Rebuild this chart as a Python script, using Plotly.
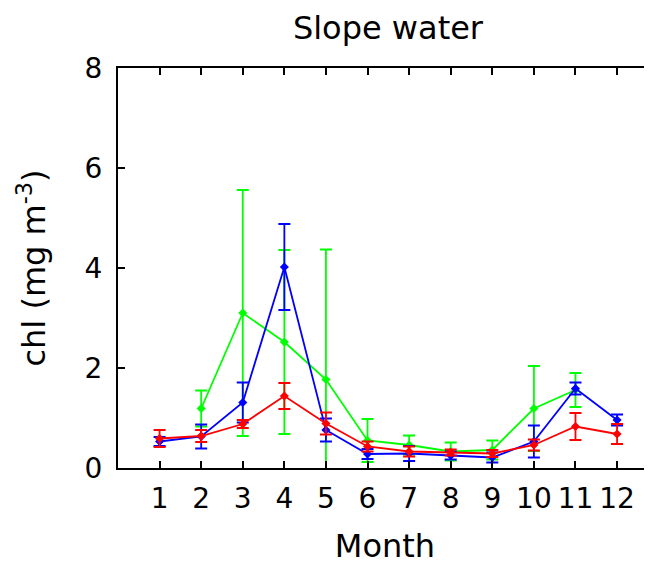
import plotly.graph_objects as go

months = [1, 2, 3, 4, 5, 6, 7, 8, 9, 10, 11, 12]
month_labels = ["1", "2", "3", "4", "5", "6", "7", "8", "9", "10", "11", "12"]

green_months = [2, 3, 4, 5, 6, 7, 8, 9, 10, 11]
green_vals = [1.19, 3.10, 2.52, 1.77, 0.55, 0.46, 0.33, 0.36, 1.19, 1.56]
green_err = [0.36, 2.46, 1.84, 2.60, 0.43, 0.19, 0.18, 0.19, 0.85, 0.34]

blue_vals = [0.53, 0.63, 1.31, 4.02, 0.76, 0.28, 0.29, 0.25, 0.21, 0.53, 1.59, 0.96]
blue_err = [0.09, 0.24, 0.40, 0.86, 0.23, 0.10, 0.15, 0.08, 0.10, 0.32, 0.12, 0.11]

red_vals = [0.59, 0.64, 0.88, 1.44, 0.89, 0.43, 0.33, 0.31, 0.29, 0.46, 0.83, 0.68]
red_err = [0.17, 0.12, 0.08, 0.26, 0.22, 0.10, 0.10, 0.06, 0.07, 0.11, 0.27, 0.20]

y_ticks = [0, 2, 4, 6, 8]

FONT = "DejaVu Sans, Verdana, sans-serif"

fig = go.Figure()


def add_series(x, y, err, color):
    fig.add_trace(go.Scatter(
        x=x, y=y, mode="lines+markers",
        line=dict(color=color, width=1.8),
        marker=dict(color=color, size=7, symbol="diamond"),
        error_y=dict(type="data", array=err, visible=True,
                     color=color, thickness=1.8, width=6),
        showlegend=False, cliponaxis=True,
    ))


add_series(green_months, green_vals, green_err, "#00ff00")
add_series(months, blue_vals, blue_err, "#0000ff")
add_series(months, red_vals, red_err, "#ff0000")

fig.update_layout(
    width=644, height=557,
    margin=dict(l=110, r=0, t=60, b=97),
    paper_bgcolor="white", plot_bgcolor="white",
    font=dict(family=FONT, color="black", size=28),
    title=dict(text="Slope water", x=0.59, xanchor="center",
               y=0.964, yanchor="middle",
               font=dict(family=FONT, size=32, color="black")),
    xaxis=dict(
        range=[0, 12.84], tickmode="array", tickvals=months,
        ticktext=month_labels, ticks="inside", ticklen=7, tickwidth=2,
        tickcolor="black", showline=True, linecolor="black", linewidth=2,
        mirror="allticks", showgrid=False, zeroline=False,
        tickfont=dict(size=28, family=FONT), ticklabelstandoff=4,
        title=dict(text="Month", font=dict(size=32, family=FONT), standoff=22),
    ),
    yaxis=dict(
        range=[0, 8], tickmode="array", tickvals=y_ticks,
        ticks="inside", ticklen=7, tickwidth=2, tickcolor="black",
        showline=True, linecolor="black", linewidth=2, mirror=False,
        showgrid=False, zeroline=False,
        tickfont=dict(size=28, family=FONT), ticklabelstandoff=8,
        title=dict(text="chl (mg m<sup>-3</sup>)", font=dict(size=32, family=FONT), standoff=29),
    ),
)

fig.write_html("out.html")
